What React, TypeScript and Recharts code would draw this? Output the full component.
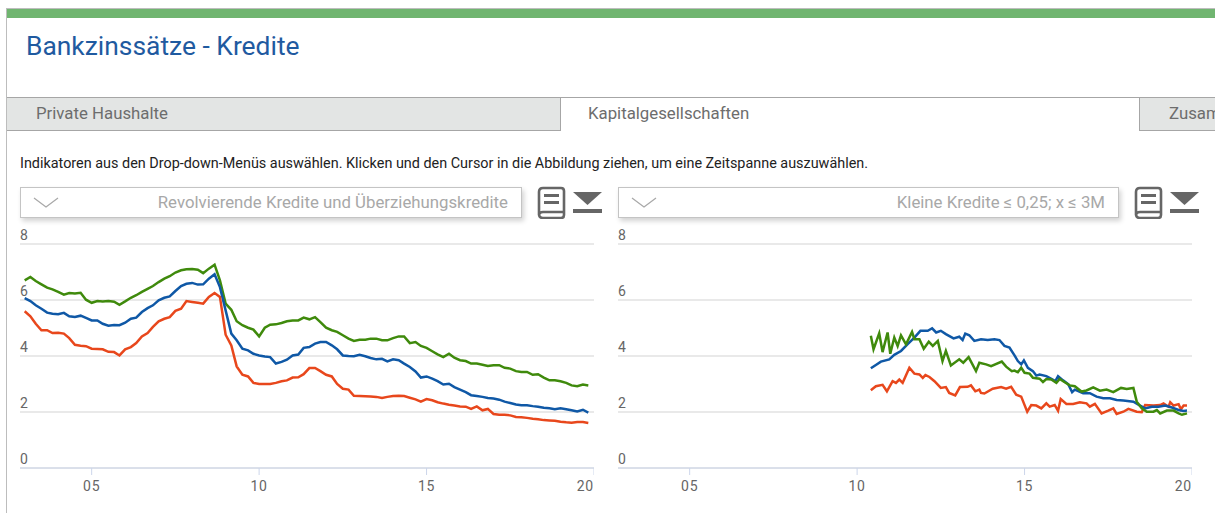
import React from "react";
import { LineChart, Line, XAxis, YAxis, CartesianGrid } from "recharts";

const tabs = ["Private Haushalte", "Kapitalgesellschaften", "Zusammen"];
const xTicks = [2005, 2010, 2015, 2020];
const yTicks = [0, 2, 4, 6, 8];

const leftYears = [
  2003.0, 2003.17, 2003.33, 2003.5, 2003.67, 2003.83, 2004.0, 2004.17, 2004.33, 2004.5, 2004.67, 2004.83,
  2005.0, 2005.17, 2005.33, 2005.5, 2005.67, 2005.83, 2006.0, 2006.17, 2006.33, 2006.5, 2006.67, 2006.83,
  2007.0, 2007.17, 2007.33, 2007.5, 2007.67, 2007.83, 2008.0, 2008.17, 2008.33, 2008.5, 2008.67, 2008.83,
  2009.0, 2009.17, 2009.33, 2009.5, 2009.67, 2009.83, 2010.0, 2010.17, 2010.33, 2010.5, 2010.67, 2010.83,
  2011.0, 2011.17, 2011.33, 2011.5, 2011.67, 2011.83, 2012.0, 2012.17, 2012.33, 2012.5, 2012.67, 2012.83,
  2013.0, 2013.17, 2013.33, 2013.5, 2013.67, 2013.83, 2014.0, 2014.17, 2014.33, 2014.5, 2014.67, 2014.83,
  2015.0, 2015.17, 2015.33, 2015.5, 2015.67, 2015.83, 2016.0, 2016.17, 2016.33, 2016.5, 2016.67, 2016.83,
  2017.0, 2017.17, 2017.33, 2017.5, 2017.67, 2017.83, 2018.0, 2018.17, 2018.33, 2018.5, 2018.67, 2018.83,
  2019.0, 2019.17, 2019.33, 2019.5, 2019.67, 2019.83,
];
const leftGreen = [
  6.7, 6.82, 6.68, 6.56, 6.44, 6.38, 6.29, 6.19, 6.25, 6.23, 6.26, 6.01,
  5.9, 5.96, 5.95, 5.96, 5.94, 5.83, 5.95, 6.08, 6.17, 6.29, 6.4, 6.5,
  6.64, 6.76, 6.85, 6.98, 7.06, 7.1, 7.11, 7.08, 6.96, 7.12, 7.26, 6.7,
  5.87, 5.65, 5.24, 5.1, 5.01, 4.94, 4.7, 5.01, 5.12, 5.13, 5.18, 5.24,
  5.27, 5.27, 5.37, 5.31, 5.39, 5.21, 5.01, 4.92, 4.86, 4.74, 4.62, 4.54,
  4.58, 4.58, 4.62, 4.62, 4.56, 4.56, 4.64, 4.7, 4.7, 4.46, 4.5, 4.36,
  4.29, 4.17, 4.06, 3.96, 4.08, 3.94, 3.85, 3.82, 3.73, 3.73, 3.69, 3.64,
  3.67, 3.67, 3.58, 3.55, 3.46, 3.43, 3.43, 3.33, 3.35, 3.23, 3.13, 3.13,
  3.1, 3.04, 2.95, 2.92, 2.98, 2.95,
];
const leftBlue = [
  6.07, 5.96, 5.81, 5.69, 5.55, 5.51, 5.49, 5.54, 5.42, 5.39, 5.44, 5.36,
  5.27, 5.27, 5.15, 5.08, 5.11, 5.1, 5.19, 5.33, 5.37, 5.57, 5.71, 5.81,
  5.99, 6.08, 6.13, 6.32, 6.5, 6.58, 6.61, 6.55, 6.56, 6.76, 6.92, 6.46,
  5.63, 4.8, 4.56, 4.26, 4.2, 4.08, 4.02, 3.98, 3.96, 3.73, 3.79, 3.87,
  4.02, 4.05, 4.29, 4.32, 4.44, 4.5, 4.5, 4.38, 4.24, 4.02, 4.0, 3.99,
  4.04, 3.99, 3.93, 3.88, 3.9, 3.81, 3.88, 3.85, 3.73, 3.61, 3.45, 3.23,
  3.27, 3.19, 3.1, 2.98, 3.01, 2.89, 2.8, 2.71, 2.6, 2.57, 2.54, 2.5,
  2.48, 2.44, 2.37, 2.32, 2.27, 2.24, 2.24, 2.21, 2.19, 2.15, 2.13, 2.1,
  2.13, 2.1, 2.06, 2.02, 2.08, 1.98,
];
const leftRed = [
  5.6, 5.42, 5.15, 4.92, 4.92, 4.82, 4.83, 4.8, 4.64, 4.4, 4.37, 4.35,
  4.26, 4.25, 4.24, 4.15, 4.14, 4.02, 4.24, 4.32, 4.46, 4.7, 4.82, 5.04,
  5.24, 5.33, 5.39, 5.61, 5.69, 5.96, 5.93, 5.9, 5.87, 6.11, 6.25, 6.11,
  4.76, 4.38, 3.63, 3.33, 3.27, 3.04, 3.0, 3.0, 3.0, 3.04, 3.1, 3.13,
  3.23, 3.24, 3.35, 3.57, 3.57, 3.46, 3.33, 3.27, 3.0, 2.83, 2.8, 2.58,
  2.57, 2.56, 2.55, 2.54, 2.5, 2.54, 2.57, 2.58, 2.57, 2.51, 2.45, 2.37,
  2.46, 2.42, 2.35, 2.3, 2.26, 2.23, 2.2, 2.19, 2.11, 2.2, 2.06, 2.11,
  1.93, 1.9, 1.9, 1.88, 1.82, 1.81, 1.79, 1.76, 1.74, 1.71, 1.7, 1.69,
  1.65, 1.63, 1.62, 1.64, 1.64, 1.61,
];

const rightGreenYears = [
  2010.41, 2010.49, 2010.66, 2010.76, 2010.91, 2010.99, 2011.11, 2011.21, 2011.31, 2011.46, 2011.64, 2011.71,
  2011.86, 2011.99, 2012.14, 2012.26, 2012.41, 2012.55, 2012.65, 2012.8, 2013.05, 2013.17, 2013.33, 2013.55,
  2013.65, 2013.85, 2014.0, 2014.32, 2014.45, 2014.62, 2014.7, 2014.8, 2014.9, 2015.0, 2015.15, 2015.25,
  2015.45, 2015.55, 2015.65, 2015.8, 2015.95, 2016.05, 2016.2, 2016.35, 2016.5, 2016.7, 2016.85, 2017.05,
  2017.25, 2017.45, 2017.65, 2017.88, 2018.05, 2018.25, 2018.35, 2018.5, 2018.65, 2018.85, 2018.95, 2019.05,
  2019.25, 2019.45, 2019.6, 2019.7, 2019.85,
];
const rightGreen = [
  4.72, 4.24, 4.81, 4.14, 4.84, 4.08, 4.66, 4.36, 4.74, 4.42, 4.86, 4.6,
  4.6, 4.26, 4.51, 4.36, 4.54, 3.82, 4.18, 3.66, 3.88, 3.76, 3.96, 3.46,
  3.76, 3.7, 3.64, 3.8, 3.62, 3.46, 3.48, 3.42, 3.58, 3.4, 3.37, 3.22,
  3.19, 3.07, 3.18, 3.16, 3.04, 3.18, 3.06, 2.95, 2.92, 2.73, 2.77, 2.88,
  2.76, 2.8, 2.71, 2.86, 2.82, 2.86, 2.37, 2.13, 2.01, 2.01, 2.07, 1.95,
  2.05, 2.05, 1.95, 1.9, 1.95,
];
const rightBlueYears = [
  2010.41, 2010.56, 2010.71, 2010.96, 2011.11, 2011.31, 2011.51, 2011.71, 2011.89, 2012.11, 2012.24, 2012.36,
  2012.5, 2012.65, 2012.88, 2013.05, 2013.15, 2013.23, 2013.35, 2013.5, 2013.7, 2013.9, 2014.1, 2014.25,
  2014.4, 2014.55, 2014.7, 2014.8, 2014.9, 2014.98, 2015.1, 2015.25, 2015.35, 2015.45, 2015.65, 2015.8,
  2015.92, 2016.0, 2016.15, 2016.3, 2016.42, 2016.5, 2016.75, 2016.95, 2017.15, 2017.35, 2017.55, 2017.75,
  2017.95, 2018.25, 2018.45, 2018.6, 2018.8, 2019.0, 2019.2, 2019.4, 2019.6, 2019.75, 2019.85,
];
const rightBlue = [
  3.56, 3.68, 3.8, 3.88, 4.04, 4.18, 4.42, 4.66, 4.9, 4.9, 4.99, 4.84,
  4.9, 4.78, 4.63, 4.69, 4.57, 4.8, 4.74, 4.54, 4.6, 4.57, 4.6, 4.57,
  4.36, 4.3, 4.02, 3.82, 3.7, 3.84, 3.58, 3.46, 3.3, 3.34, 3.28, 3.18,
  3.1, 3.28, 3.13, 3.0, 2.71, 2.8, 2.67, 2.67, 2.55, 2.49, 2.49, 2.43,
  2.41, 2.37, 2.23, 2.13, 2.19, 2.19, 2.23, 2.16, 2.07, 2.04, 2.05,
];
const rightRedYears = [
  2010.41, 2010.56, 2010.76, 2010.89, 2011.06, 2011.16, 2011.26, 2011.36, 2011.56, 2011.71, 2011.86, 2011.96,
  2012.04, 2012.16, 2012.31, 2012.5, 2012.65, 2012.75, 2012.93, 2013.07, 2013.3, 2013.4, 2013.53, 2013.65,
  2013.7, 2013.8, 2014.05, 2014.3, 2014.45, 2014.6, 2014.75, 2014.9, 2015.08, 2015.2, 2015.35, 2015.5,
  2015.65, 2015.75, 2015.9, 2016.0, 2016.08, 2016.25, 2016.45, 2016.65, 2016.85, 2016.95, 2017.1, 2017.3,
  2017.5, 2017.65, 2017.75, 2017.95, 2018.1, 2018.35, 2018.5, 2018.6, 2018.85, 2019.05, 2019.15, 2019.3,
  2019.35, 2019.45, 2019.6, 2019.67, 2019.75, 2019.85,
];
const rightRed = [
  2.78, 2.92, 2.97, 2.74, 3.1, 3.04, 3.16, 3.04, 3.58, 3.37, 3.34, 3.22,
  3.32, 3.25, 3.1, 2.86, 2.89, 2.68, 2.59, 2.89, 2.9, 2.95, 2.74, 2.8,
  2.68, 2.66, 2.83, 2.89, 2.83, 2.9, 2.62, 2.55, 2.01, 2.25, 2.23, 2.13,
  2.31, 2.19, 2.25, 2.04, 2.46, 2.29, 2.29, 2.35, 2.31, 2.19, 2.29, 1.95,
  2.05, 2.13, 1.93, 2.01, 2.11, 2.01, 1.99, 2.25, 2.23, 2.25, 2.31, 2.19,
  2.35, 2.23, 2.28, 2.1, 2.23, 2.23,
];

const FONT = "Roboto, sans-serif";
const zip = (xs: number[], ys: number[]) => xs.map((x, i) => ({ x, y: ys[i] }));

const XTick = (p: any) => {
  const v = p.payload.value;
  return (
    <text x={p.x} y={p.y + 14} textAnchor={v === 2020 ? "end" : "middle"} fill="#666" fontSize={14} fontFamily={FONT} letterSpacing={0.8}>
      {String(v).slice(2)}
    </text>
  );
};
const YTick = (p: any) => (
  <text x={p.x} y={p.y - 4} textAnchor="start" fill="#666" fontSize={14} fontFamily={FONT}>
    {p.payload.value}
  </text>
);

function Chart({ series, left }: { series: { color: string; data: { x: number; y: number }[] }[]; left: number }) {
  return (
    <div style={{ position: "absolute", left: left - 1, top: 224 }}>
      <LineChart width={575} height={276} margin={{ top: 20, right: 0, bottom: 0, left: 0 }}>
        <CartesianGrid horizontal vertical={false} stroke="#e2e2e2" strokeWidth={1.3} />
        <XAxis
          dataKey="x"
          type="number"
          domain={[2002.86, 2020]}
          ticks={xTicks}
          interval={0}
          allowDuplicatedCategory={false}
          stroke="#ccd6eb"
          tickSize={7}
          tick={<XTick />}
          height={32}
        />
        <YAxis
          type="number"
          domain={[0, 8]}
          ticks={yTicks}
          interval={0}
          width={1}
          axisLine={false}
          tickLine={false}
          tickSize={0}
          tickMargin={0}
          tick={<YTick />}
        />
        {series.map((s, i) => (
          <Line
            key={i}
            data={s.data}
            dataKey="y"
            type="linear"
            stroke={s.color}
            strokeWidth={2.5}
            dot={false}
            isAnimationActive={false}
          />
        ))}
      </LineChart>
    </div>
  );
}

function Dropdown({ left, width, label }: { left: number; width: number; label: string }) {
  return (
    <div
      style={{
        position: "absolute", left, top: 187, width, height: 31, boxSizing: "border-box",
        background: "#fff", border: "1px solid #c4c4c4", boxShadow: "2px 3px 5px rgba(0,0,0,0.18)",
        fontFamily: FONT, fontSize: 16.8, color: "#a8a8a8", textAlign: "right", lineHeight: "29px", paddingRight: 13,
      }}
    >
      <svg width={26} height={12} style={{ position: "absolute", left: 12, top: 9 }}>
        <path d="M1 1 L13 10 L25 1" fill="none" stroke="#a8a8a8" strokeWidth={1.2} />
      </svg>
      {label}
    </div>
  );
}

function Icons({ left }: { left: number }) {
  return (
    <svg width={68} height={34} style={{ position: "absolute", left, top: 185 }}>
      <path d="M3 7 Q3 3 7 3 H25 Q28 3 28 6 V27 H7 Q3 27 3 30 Z M3 29 Q3 33 7 33 H25 Q28 33 28 30 V26" fill="none" stroke="#666" strokeWidth={2.6} />
      <rect x={8} y={9} width={15} height={3} fill="#666" />
      <rect x={8} y={16} width={15} height={3} fill="#666" />
      <path d="M37 7 H66 L51.5 20 Z" fill="#666" />
      <rect x={37} y={24} width={29} height={4} fill="#666" />
    </svg>
  );
}

export default function App() {
  const leftSeries = [
    { color: "#3f8a0c", data: zip(leftYears, leftGreen) },
    { color: "#0f58a6", data: zip(leftYears, leftBlue) },
    { color: "#e8471c", data: zip(leftYears, leftRed) },
  ];
  const rightSeries = [
    { color: "#e8471c", data: zip(rightRedYears, rightRed) },
    { color: "#0f58a6", data: zip(rightBlueYears, rightBlue) },
    { color: "#3f8a0c", data: zip(rightGreenYears, rightGreen) },
  ];
  return (
    <div style={{ position: "fixed", left: 0, top: 0, width: 1215, height: 513, overflow: "hidden", background: "#fff", fontFamily: FONT }}>
      <div style={{ position: "absolute", left: 6, top: 8, width: 1209, height: 505, boxSizing: "border-box", borderLeft: "1.5px solid #bdbdbd", borderTop: "1px solid #bdbdbd" }} />
      <div style={{ position: "absolute", left: 7, top: 9, width: 1208, height: 9, background: "#70b570" }} />
      <div style={{ position: "absolute", left: 26, top: 30, fontSize: 26.4, color: "#1f5aa0", lineHeight: "32px", whiteSpace: "nowrap" }}>
        Bankzinssätze - Kredite
      </div>

      <div style={{ position: "absolute", left: 7, top: 97, width: 554, height: 34, boxSizing: "border-box", background: "#e3e5e4", borderTop: "1px solid #a6a6a6", borderBottom: "1px solid #a6a6a6", borderRight: "1px solid #a6a6a6", color: "#6d6d6d", fontSize: 16.8, lineHeight: "31px", paddingLeft: 29 }}>
        {tabs[0]}
      </div>
      <div style={{ position: "absolute", left: 561, top: 97, width: 579, height: 34, boxSizing: "border-box", background: "#fff", borderTop: "1px solid #a6a6a6", color: "#6d6d6d", fontSize: 16.8, lineHeight: "31px", paddingLeft: 27 }}>
        {tabs[1]}
      </div>
      <div style={{ position: "absolute", left: 1139, top: 97, width: 76, height: 34, boxSizing: "border-box", background: "#e3e5e4", borderTop: "1px solid #a6a6a6", borderBottom: "1px solid #a6a6a6", borderLeft: "1px solid #a6a6a6", color: "#6d6d6d", fontSize: 16.8, lineHeight: "31px", paddingLeft: 29, whiteSpace: "nowrap", overflow: "hidden" }}>
        {tabs[2]}
      </div>

      <div style={{ position: "absolute", left: 20, top: 156, fontSize: 14.4, color: "#222", lineHeight: "16px", whiteSpace: "nowrap" }}>
        Indikatoren aus den Drop-down-Menüs auswählen. Klicken und den Cursor in die Abbildung ziehen, um eine Zeitspanne auszuwählen.
      </div>

      <Dropdown left={20} width={502} label="Revolvierende Kredite und Überziehungskredite" />
      <Icons left={536} />
      <Dropdown left={618} width={501} label="Kleine Kredite ≤ 0,25; x ≤ 3M" />
      <Icons left={1133} />

      <Chart series={leftSeries} left={20} />
      <Chart series={rightSeries} left={618} />
    </div>
  );
}
